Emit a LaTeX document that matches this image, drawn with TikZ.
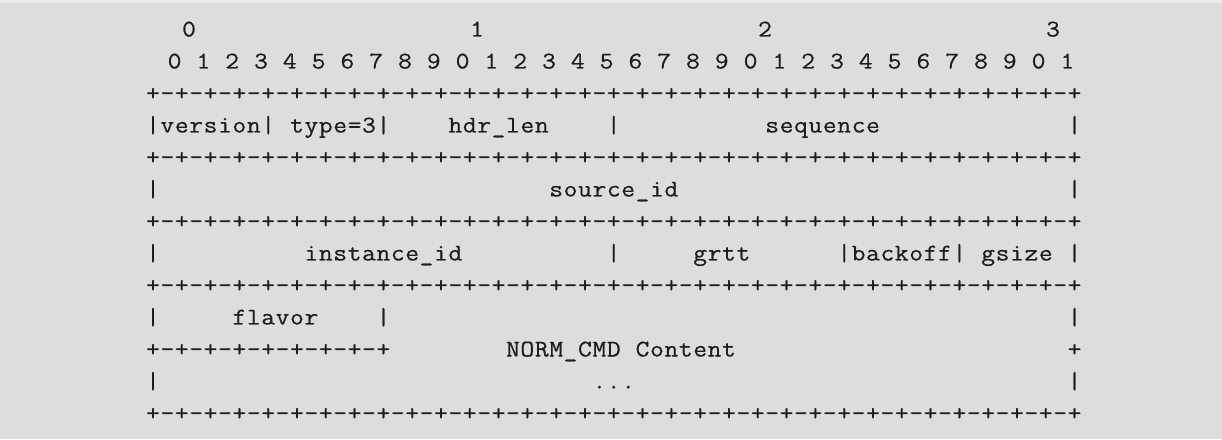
\documentclass[tikz,border=0pt]{standalone}
\usepackage{fontspec}
\newfontfamily\asciifont{lmmono12-regular.otf}[FakeStretch=1.12,FakeBold=0.5]
\newdimen\charw
\charw=14.4pt
\protected\def\gp{gap}
\protected\def\monostop{stop}
\def\mono#1{\monoloop#1\monostop}
\def\monoloop#1{%
  \ifx#1\monostop\let\mononext\relax
  \else\ifx#1\gp\let\mononext\monogap
  \else\makebox[\charw][c]{#1}\let\mononext\monoloop\fi\fi
  \mononext}
\def\monogap#1{\hspace*{\dimexpr#1\charw\relax}\monoloop}
\def\eightpairs{+-+-+-+-+-+-+-+-}
\edef\borderline{\eightpairs\eightpairs\eightpairs\eightpairs+}
\def\tend{0\gp1 1\gp1 2\gp1 3\gp1 4\gp1 5\gp1 6\gp1 7\gp1 8\gp1 9\gp1 }
\edef\digitsrow{\tend\tend\tend0\gp1 1}
\definecolor{pagebg}{RGB}{221,221,221}
\definecolor{topstrip}{RGB}{236,236,236}
\definecolor{asciiink}{RGB}{30,30,30}
\tikzset{
  asciirow/.style={anchor=base west, inner sep=0pt, outer sep=0pt,
    text=asciiink, font=\asciifont\fontsize{24}{32}\selectfont}
}
\begin{document}
\begin{tikzpicture}[x=1pt,y=1pt]
\useasboundingbox (0,0) rectangle (1222,439);
\fill[pagebg] (0,0) rectangle (1222,439);
\fill[topstrip] (0,436) rectangle (1222,439);
\node[asciirow] (r0) at (181.8,402.5) {\mono{0\gp{19}1\gp{19}2\gp{19}3}};
\node[asciirow] (r1) at (167.4,370.5) {\expandafter\mono\expandafter{\digitsrow}};
\node[asciirow] (r2) at (145.8,338.5) {\expandafter\mono\expandafter{\borderline}};
\node[asciirow] (r3) at (145.8,306.5) {\mono{|version|\gp1 type=3|\gp4 hdr\_len\gp4 |\gp{10}sequence\gp{13}|}};
\node[asciirow] (r4) at (145.8,274.5) {\expandafter\mono\expandafter{\borderline}};
\node[asciirow] (r5) at (145.8,242.5) {\mono{|\gp{27}source\_id\gp{27}|}};
\node[asciirow] (r6) at (145.8,210.5) {\expandafter\mono\expandafter{\borderline}};
\node[asciirow] (r7) at (145.8,178.5) {\mono{|\gp{10}instance\_id\gp{10}|\gp5 grtt\gp6 |backoff|\gp1 gsize\gp1 |}};
\node[asciirow] (r8) at (145.8,146.5) {\expandafter\mono\expandafter{\borderline}};
\node[asciirow] (r9) at (145.8,114.5) {\mono{|\gp5 flavor\gp4 |\gp{47}|}};
\node[asciirow] (r10) at (145.8,82.5) {\mono{+-+-+-+-+-+-+-+-+\gp8 NORM\_CMD\gp1 Content\gp{23}+}};
\node[asciirow] (r11) at (145.8,50.5) {\mono{|\gp{30}...\gp{30}|}};
\node[asciirow] (r12) at (145.8,18.5) {\expandafter\mono\expandafter{\borderline}};
\end{tikzpicture}
\end{document}
